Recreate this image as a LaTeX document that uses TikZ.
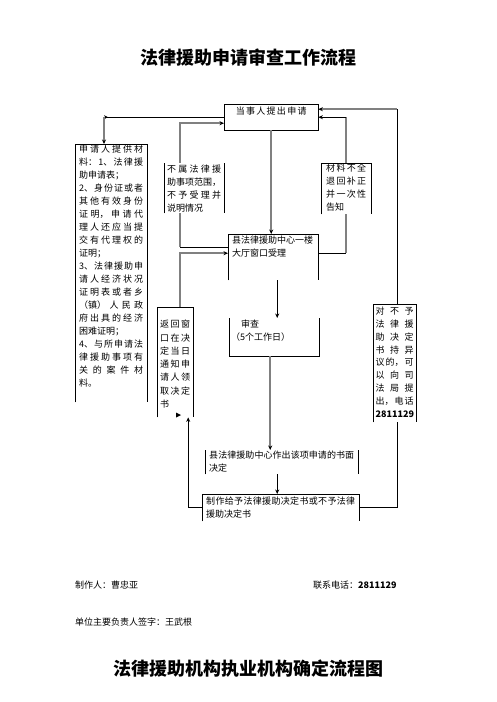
\documentclass[tikz,border=0pt]{standalone}
\usepackage{fontspec}
\setmainfont{Noto Sans CJK SC}
\usetikzlibrary{arrows.meta,calc}
\XeTeXlinebreaklocale "zh"
\XeTeXlinebreakskip=0pt plus 2pt
\definecolor{lineGray}{RGB}{128,128,128}

% partial frames of the text boxes
\newcommand{\frameopen}[1]{% no bottom edge
  \draw[bline] (#1.south west) -- (#1.north west) -- (#1.north east) -- (#1.south east);}
\newcommand{\framesides}[1]{% side edges only
  \draw[bline] (#1.south west) -- (#1.north west) (#1.north east) -- (#1.south east);}
\newcommand{\framecup}[1]{% no top edge
  \draw[bline] (#1.north west) -- (#1.south west) -- (#1.south east) -- (#1.north east);}

\begin{document}
\begin{tikzpicture}[x=1pt,y=-1pt,
  >={Stealth[length=4.5pt,width=4pt,color=black]},
  bline/.style={black,line width=0.8pt},
  gline/.style={lineGray,line width=2.4pt},
  box/.style={anchor=north west,inner xsep=4pt,inner ysep=1pt,text height=8pt,
    align=justify,font=\fontsize{9}{13}\selectfont},
  title/.style={font=\fontsize{18}{20}\selectfont\bfseries},
  foot/.style={anchor=west,inner sep=0pt,font=\fontsize{9}{11}\selectfont}]

\path[fill=white,use as bounding box] (0,0) rectangle (496,702);

%% ── title ───────────────────────────────────────────────────────────
\node[title] (ttl) at (248,58) {法律援助申请审查工作流程};

%% ── boxes ───────────────────────────────────────────────────────────
\node[box,inner xsep=0pt,inner ysep=2.4pt,text width=94pt,align=center,
  text depth=13.2pt] (apply) at (224,104) {当事人提出申请};
\draw[bline] (apply.south west) rectangle (apply.north east);

\node[box,inner ysep=0.5pt,text width=64pt,text depth=249pt] (docs) at (75,144)
  {申请人提供材\linebreak 料：1、法律援\linebreak 助申请表；\\
   2、身份证或者\linebreak 其他有效身份\linebreak 证明，申请代\linebreak
   理人还应当提\linebreak 交有代理权的\linebreak 证明；\\
   3、法律援助申\linebreak 请人经济状况\linebreak 证明表或者乡\linebreak
   （镇）人民政\linebreak 府出具的经济\linebreak 困难证明；\\
   4、与所申请法\linebreak 律援助事项有\linebreak 关的案件材\linebreak 料。};
\frameopen{docs}

\node[box,inner xsep=3pt,text width=54pt,text depth=40pt] (reject) at (164,163)
  {不属法律援\linebreak 助事项范围，\linebreak 不予受理并\linebreak 说明情况};
\framesides{reject}

\node[box,inner xsep=5pt,inner ysep=0.5pt,text width=40pt,text depth=42pt]
  (supp) at (321,163) {材料不全\linebreak 退回补正\linebreak 并一次性\linebreak 告知};
\frameopen{supp}

\node[box,inner ysep=1.5pt,text width=82pt,text depth=35pt] (accept) at (228,234)
  {县法律援助中心一楼\\大厅窗口受理};
\frameopen{accept}

\node[box,inner xsep=2pt,inner ysep=1.5pt,text width=86pt,text depth=27pt,
  align=left] (review) at (229,318) {\hspace*{10pt}审查\\（5个工作日）};
\framecup{review}

\node[box,inner xsep=3pt,inner ysep=12.5pt,text width=30pt,text depth=77pt,
  font=\fontsize{9}{13.3}\selectfont] (back) at (157,307)
  {返回窗\linebreak 口在决\linebreak 定当日\linebreak 通知申\linebreak
   请人领\linebreak 取决定\linebreak 书};
\frameopen{back}

\node[box,inner xsep=2.5pt,inner ysep=2.5pt,text width=38pt,text depth=105pt,
  font=\fontsize{9}{12.8}\selectfont] (object) at (373,304)
  {对不予\linebreak 法律援\linebreak 助决定\linebreak 书持异\linebreak
   议的，可\linebreak 以向司\linebreak 法局提\linebreak 出，电话\linebreak
   \textbf{2811129}};
\frameopen{object}

\node[box,inner ysep=0.5pt,text width=145pt,text depth=15pt] (decide) at (205,450)
  {县法律援助中心作出该项申请的书面\linebreak 决定};
\framesides{decide}

\node[box,inner ysep=2.5pt,text width=149pt,text depth=14pt] (issue) at (202,494)
  {制作给予法律援助决定书或不予法律\linebreak 援助决定书};
\frameopen{issue}

%% ── connectors ──────────────────────────────────────────────────────
\coordinate (colA) at (104,0);
\coordinate (colL) at (180,0);
\coordinate (colR) at (397,0);
\coordinate (acc1) at ([yshift=10pt]accept.west);
\coordinate (acc2) at ([yshift=4pt]accept.east);
\coordinate (app2) at ([yshift=8pt]apply.east);

% apply -> docs
\draw[bline,{Stealth[reversed,length=4pt,width=4pt]}-] (colA |- apply.west) -- (apply.west);
\draw[gline,->] (colA |- apply.west) -- (colA |- docs.north);

% reject <-> apply / accept
\draw[gline,->] (colL |- reject.north) |- ([yshift=-6pt]apply.west);
\draw[gline] (colL |- reject.south) -- (colL |- acc1);
\draw[bline] (colL |- acc1) -- (acc1);

% back -> accept
\draw[gline,->] (colL |- back.north) |- ([yshift=4pt]accept.west);

% main column
\draw[gline,->] (apply.south) -- (apply.south |- accept.north);
\draw[bline,->] ([xshift=4pt]accept.south) -- ([xshift=4pt]accept.south |- review.north);
\draw[gline,->] ([xshift=-4pt]review.south) -- ([xshift=-4pt]review.south |- decide.north);
\draw[bline,->] ([xshift=-4.5pt]decide.south) -- ([xshift=-4.5pt]decide.south |- issue.north);

% supp <-> apply / accept
\draw[gline] (supp.north) -- (supp.north |- apply.east);
\draw[bline,->] (supp.north |- apply.east) -- (apply.east);
\draw[bline] (acc2) -- (supp.south |- acc2);
\draw[gline] (supp.south |- acc2) -- (supp.south);

% object -> apply, issue -> object
\draw[bline] (colR |- object.north) -- (colR |- app2);
\draw[gline,->] (colR |- app2) -- (app2);
\draw[bline] (issue.east) -| (colR |- object.south);

% issue -> back
\draw[bline,->] (issue.west) -| ([xshift=13pt]back.south);
\fill (176,412.5) -- (181,415) -- (176,417.5) -- cycle;

%% ── footer ──────────────────────────────────────────────────────────
\node[foot] (maker) at (75,585) {制作人：曹忠亚};
\node[foot] (phone) at (313,585) {联系电话：\textbf{2811129}};
\node[foot] (sign) at (75,622) {单位主要负责人签字：王武根};

\node[title] (ttl2) at (248,669) {法律援助机构执业机构确定流程图};

\end{tikzpicture}
\end{document}
